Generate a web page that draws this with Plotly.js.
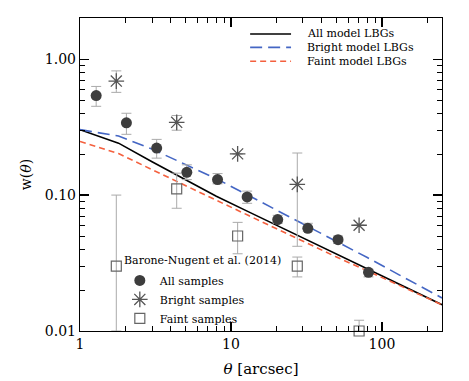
<!DOCTYPE html>
<html>
<head>
<meta charset="utf-8">
<script src="https://cdn.plot.ly/plotly-3.0.1.min.js"></script>
<style>html,body{margin:0;padding:0;background:#fff;}#chart{width:469px;height:381px;}</style>
</head>
<body>
<div id="chart"></div>
<script>
// Model curves
const xModel = [1, 1.8, 3, 5, 8, 13, 20, 32, 50, 80, 130, 250];
const allModel = [0.303, 0.241, 0.176, 0.129, 0.098, 0.0756, 0.060, 0.047, 0.0369, 0.0287, 0.0221, 0.0156];
const brightModel = [0.303, 0.272, 0.218, 0.169, 0.132, 0.0997, 0.0778, 0.0596, 0.0459, 0.0347, 0.0259, 0.0175];
const faintModel = [0.248, 0.202, 0.154, 0.117, 0.0916, 0.071, 0.0565, 0.0442, 0.035, 0.0277, 0.0217, 0.0156];
const modelNames = ['All model LBGs', 'Bright model LBGs', 'Faint model LBGs'];

// Barone-Nugent et al. (2014) observations
const obsTitle = 'Barone-Nugent et al. (2014)';
const allX = [1.28, 2.03, 3.22, 5.1, 8.15, 12.8, 20.4, 32.3, 51.2, 81.5];
const allY = [0.54, 0.34, 0.222, 0.147, 0.130, 0.097, 0.066, 0.057, 0.047, 0.027];
const allHi = [0.63, 0.40, 0.257, 0.167, 0.144, 0.107, 0.071, 0.062, 0.050, 0.0284];
const allLo = [0.45, 0.28, 0.187, 0.130, 0.121, 0.087, 0.062, 0.054, 0.044, 0.0250];

const brightX = [1.74, 4.37, 11.07, 27.5, 70.6];
const brightY = [0.69, 0.343, 0.201, 0.12, 0.060];
const brightHi = [0.82, 0.385, 0.201, 0.204, 0.060];
const brightLo = [0.57, 0.30, 0.201, 0.042, 0.060];

const faintX = [1.74, 4.37, 11.07, 27.5, 70.6];
const faintY = [0.030, 0.111, 0.050, 0.030, 0.010];
const faintHi = [0.10, 0.145, 0.063, 0.035, 0.012];
const faintLo = [0.010, 0.080, 0.037, 0.025, 0.010];

// Axis ticks
const xTickVals = [1, 10, 100];
const xTickText = ['1', '10', '100'];
const xMinor = [2,3,4,5,6,7,8,9,20,30,40,50,60,70,80,90,200];
const yTickVals = [0.01, 0.1, 1];
const yTickText = ['0.01', '0.10', '1.00'];
const yMinor = [0.02,0.03,0.04,0.05,0.06,0.07,0.08,0.09,0.2,0.3,0.4,0.5,0.6,0.7,0.8,0.9,2];

const diff = (a, b) => a.map((v, i) => v - b[i]);
const FONT = 'DejaVu Serif, serif';
const modelStyles = [
  {color: '#000000', width: 1.6},
  {color: '#4466c4', width: 1.6, dash: '12px,6px'},
  {color: '#f4603e', width: 1.6, dash: '6px,4px'}
];

const errStyle = {color: '#aaaaaa', thickness: 1, width: 5};

const traces = [
  {x: xModel, y: allModel, mode: 'lines', name: modelNames[0], showlegend: false, line: modelStyles[0]},
  {x: xModel, y: brightModel, mode: 'lines', name: modelNames[1], showlegend: false, line: modelStyles[1]},
  {x: xModel, y: faintModel, mode: 'lines', name: modelNames[2], showlegend: false, line: modelStyles[2]},
  {x: allX, y: allY, mode: 'markers', name: 'All samples', legend: 'legend2',
   marker: {symbol: 'circle', size: 11, color: '#3d3d3d'},
   error_y: Object.assign({type: 'data', symmetric: false, array: diff(allHi, allY), arrayminus: diff(allY, allLo)}, errStyle)},
  {x: brightX, y: brightY, mode: 'markers', name: 'Bright samples', legend: 'legend2',
   marker: {symbol: 'asterisk-open', size: 13, color: '#555555', line: {color: '#555555', width: 1.3}},
   error_y: Object.assign({type: 'data', symmetric: false, array: diff(brightHi, brightY), arrayminus: diff(brightY, brightLo)}, errStyle)},
  {x: faintX, y: faintY, mode: 'markers', name: 'Faint samples', legend: 'legend2', cliponaxis: false,
   marker: {symbol: 'square-open', size: 10, color: '#666666', line: {color: '#666666', width: 1.2}},
   error_y: Object.assign({type: 'data', symmetric: false, array: diff(faintHi, faintY), arrayminus: diff(faintY, faintLo)}, errStyle)}
];

// Manual top-right legend for the model curves (paper coordinates)
const shapes = [];
const annotations = [];
const legX0 = 0.47, legX1 = 0.583, legTxt = 0.622;
const legY = [0.949, 0.906, 0.862];
modelNames.forEach((n, i) => {
  shapes.push({type: 'line', xref: 'paper', yref: 'paper', x0: legX0, x1: legX1, y0: legY[i], y1: legY[i],
               line: modelStyles[i]});
  annotations.push({xref: 'paper', yref: 'paper', x: legTxt, y: legY[i], xanchor: 'left', yanchor: 'middle',
                    text: n, showarrow: false, font: {family: FONT, size: 11, color: '#000'}});
});
annotations.push({xref: 'paper', yref: 'paper', x: 0.116, y: 0.226, xanchor: 'left', yanchor: 'middle',
                  text: obsTitle, showarrow: false, font: {family: FONT, size: 11, color: '#000'}});

const axisCommon = {
  type: 'log', showgrid: false, zeroline: false, showline: true, linecolor: '#000', linewidth: 1.2,
  mirror: 'allticks', ticks: 'inside', ticklen: 9, tickwidth: 1.2, tickcolor: '#000',
  tickfont: {family: FONT, size: 14, color: '#000'}, tickmode: 'array'
};

const layout = {
  width: 469, height: 381,
  margin: {l: 80, r: 27, t: 18, b: 50},
  paper_bgcolor: '#fff', plot_bgcolor: '#fff',
  font: {family: FONT, color: '#000'},
  xaxis: Object.assign({}, axisCommon, {
    range: [0, Math.log10(250)], tickvals: xTickVals, ticktext: xTickText,
    minor: {tickmode: 'array', tickvals: xMinor, ticks: 'inside', ticklen: 5, tickwidth: 1, tickcolor: '#000'},
    title: {text: '<i>θ</i> [arcsec]', font: {family: FONT, size: 15}, standoff: 12}
  }),
  yaxis: Object.assign({}, axisCommon, {
    range: [-2, 0.303], tickvals: yTickVals, ticktext: yTickText,
    minor: {tickmode: 'array', tickvals: yMinor, ticks: 'inside', ticklen: 5, tickwidth: 1, tickcolor: '#000'},
    title: {text: 'w(<i>θ</i>)', font: {family: FONT, size: 14}, standoff: 10}
  }),
  shapes: shapes,
  annotations: annotations,
  showlegend: true,
  legend2: {x: 0.11, y: 0.208, xanchor: 'left', yanchor: 'top', bgcolor: 'rgba(0,0,0,0)',
            font: {family: FONT, size: 11}}
};

Plotly.newPlot('chart', traces, layout, {displayModeBar: false, staticPlot: true});
</script>
</body>
</html>
